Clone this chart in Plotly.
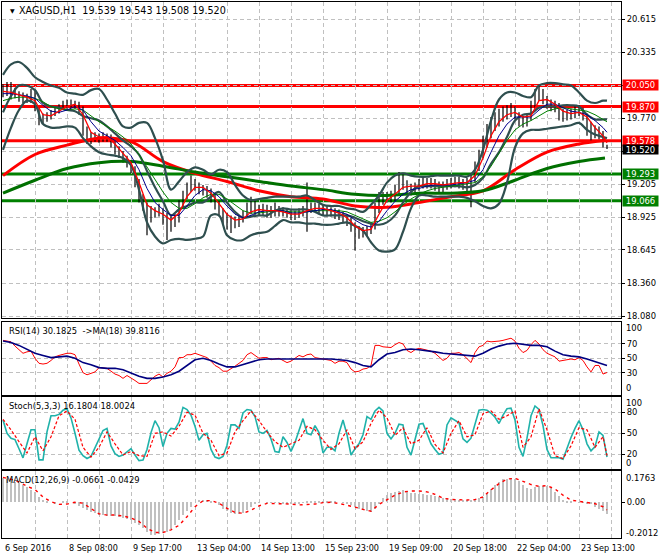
import plotly.graph_objects as go

# ---------------- data ----------------
time_labels = ["6 Sep 2016", "8 Sep 08:00", "9 Sep 17:00", "13 Sep 04:00", "14 Sep 13:00",
               "15 Sep 23:00", "19 Sep 09:00", "20 Sep 18:00", "22 Sep 04:00", "23 Sep 13:00"]
price_ticks = [20.615, 20.335, 20.050, 19.770, 19.490, 19.205, 18.925, 18.645, 18.360, 18.080]
price_tick_text = ["20.615", "20.335", "", "19.770", "", "19.205", "18.925", "18.645", "18.360", "18.080"]

close = [20.01,20.00,19.99,19.99,19.96,19.95,19.94,19.96,19.88,19.76,
 19.76,19.78,19.81,19.83,19.86,19.88,19.89,19.90,19.89,19.86,
 19.69,19.61,19.60,19.61,19.60,19.61,19.61,19.57,19.51,19.48,
 19.44,19.40,19.35,19.24,19.11,19.05,18.97,18.96,18.97,18.98,
 18.94,18.90,18.88,18.90,19.03,19.11,19.17,19.22,19.20,19.17,
 19.16,19.14,19.11,19.05,18.99,18.93,18.91,18.89,18.88,18.88,
 18.93,18.98,19.00,18.99,18.99,18.99,18.98,18.97,18.98,18.98,
 18.97,18.96,18.94,18.94,18.96,18.98,19.00,19.01,19.01,18.99,
 18.99,18.97,18.97,18.96,18.94,18.93,18.90,18.85,18.81,18.80,
 18.80,18.81,18.83,18.97,19.06,19.09,19.10,19.10,19.14,19.23,
 19.22,19.18,19.16,19.17,19.20,19.22,19.22,19.22,19.20,19.18,
 19.19,19.21,19.22,19.23,19.23,19.21,19.21,19.24,19.33,19.41,
 19.52,19.64,19.70,19.75,19.78,19.81,19.82,19.84,19.82,19.76,
 19.74,19.76,19.84,19.95,19.99,19.94,19.90,19.88,19.87,19.83,
 19.80,19.80,19.81,19.82,19.84,19.82,19.74,19.67,19.65,19.64,
 19.58,19.52]
high = [20.06,20.08,20.08,20.03,20.00,19.99,19.98,20.02,20.01,19.86,
 19.81,19.82,19.84,19.87,19.89,19.92,19.93,19.93,19.92,19.91,
 19.87,19.70,19.65,19.65,19.64,19.65,19.64,19.63,19.57,19.53,
 19.49,19.45,19.41,19.36,19.25,19.12,19.05,19.02,19.01,19.04,
 19.00,18.96,18.95,18.95,19.07,19.15,19.22,19.28,19.25,19.22,
 19.20,19.19,19.17,19.12,19.06,19.00,18.96,18.94,18.93,18.94,
 18.98,19.05,19.10,19.08,19.03,19.04,19.03,19.02,19.05,19.02,
 19.01,19.00,18.99,18.98,19.00,19.02,19.22,19.05,19.05,19.04,
 19.03,19.02,19.01,19.00,18.99,18.97,18.95,18.92,18.88,18.85,
 18.84,18.85,18.88,19.05,19.14,19.14,19.14,19.15,19.20,19.31,
 19.29,19.24,19.21,19.22,19.25,19.26,19.26,19.26,19.25,19.23,
 19.23,19.25,19.26,19.27,19.27,19.25,19.26,19.30,19.40,19.50,
 19.62,19.72,19.78,19.82,19.85,19.87,19.88,19.90,19.87,19.82,
 19.79,19.81,19.92,20.02,20.05,20.02,19.96,19.93,19.92,19.90,
 19.85,19.84,19.85,19.88,19.88,19.86,19.81,19.74,19.71,19.70,
 19.66,19.543]
low = [19.95,19.96,19.93,19.94,19.91,19.90,19.90,19.90,19.83,19.71,
 19.72,19.74,19.76,19.79,19.81,19.84,19.85,19.86,19.85,19.80,
 19.62,19.55,19.55,19.57,19.56,19.57,19.57,19.52,19.46,19.43,
 19.39,19.35,19.30,19.18,19.05,18.98,18.77,18.88,18.92,18.93,
 18.86,18.73,18.80,18.84,18.88,19.00,19.08,19.14,19.15,19.12,
 19.11,19.09,19.05,18.99,18.93,18.86,18.82,18.79,18.83,18.84,
 18.88,18.93,18.95,18.94,18.94,18.94,18.92,18.92,18.93,18.93,
 18.93,18.92,18.90,18.90,18.92,18.93,18.80,18.96,18.97,18.95,
 18.94,18.93,18.93,18.91,18.90,18.88,18.85,18.80,18.64,18.74,
 18.75,18.76,18.78,18.82,18.96,19.03,19.05,19.05,19.06,19.12,
 19.16,19.13,19.11,19.13,19.15,19.17,19.17,19.17,19.15,19.13,
 19.14,19.16,19.17,19.18,19.17,19.16,19.12,19.01,19.22,19.32,
 19.43,19.52,19.60,19.66,19.70,19.74,19.76,19.78,19.76,19.70,
 19.69,19.70,19.75,19.85,19.92,19.89,19.85,19.83,19.82,19.75,
 19.74,19.75,19.76,19.77,19.79,19.75,19.62,19.58,19.60,19.59,
 19.52,19.508]

ma_red = [20.00,19.99,19.97,19.95,19.92,19.80,19.79,19.83,19.87,19.89,
 19.80,19.65,19.61,19.61,19.55,19.47,19.39,19.22,19.03,18.98,
 18.95,18.90,18.96,19.10,19.18,19.18,19.13,19.04,18.95,18.90,
 18.91,18.97,18.99,18.98,18.98,18.97,18.95,18.95,18.98,19.00,
 19.00,18.98,18.96,18.92,18.85,18.81,18.82,18.95,19.07,19.12,
 19.18,19.19,19.19,19.21,19.21,19.20,19.21,19.22,19.22,19.28,
 19.43,19.62,19.74,19.80,19.82,19.78,19.79,19.92,19.93,19.89,
 19.83,19.81,19.82,19.78,19.69,19.62,19.56]
ma_blue = [19.98,19.98,19.97,19.96,19.94,19.88,19.83,19.82,19.84,19.87,
 19.84,19.74,19.66,19.62,19.58,19.52,19.45,19.33,19.17,19.05,
 18.99,18.94,18.94,19.02,19.11,19.16,19.15,19.10,19.02,18.95,
 18.92,18.94,18.97,18.98,18.98,18.98,18.96,18.96,18.97,18.98,
 18.99,18.99,18.97,18.95,18.90,18.86,18.84,18.89,18.98,19.06,
 19.12,19.16,19.17,19.19,19.20,19.20,19.20,19.21,19.22,19.24,
 19.33,19.48,19.62,19.72,19.78,19.78,19.78,19.84,19.89,19.89,
 19.86,19.83,19.82,19.80,19.75,19.69,19.65]
ma_green = [19.92,19.94,19.95,19.95,19.94,19.91,19.87,19.85,19.84,19.85,
 19.84,19.79,19.74,19.70,19.66,19.61,19.55,19.46,19.35,19.24,
 19.14,19.05,19.00,19.00,19.04,19.09,19.12,19.12,19.08,19.03,
 18.98,18.96,18.96,18.97,18.98,18.98,18.97,18.97,18.97,18.98,
 18.98,18.98,18.98,18.97,18.94,18.91,18.88,18.89,18.92,18.97,
 19.03,19.08,19.12,19.15,19.17,19.18,19.19,19.20,19.21,19.22,
 19.27,19.36,19.47,19.58,19.67,19.72,19.75,19.79,19.83,19.85,
 19.86,19.85,19.84,19.83,19.80,19.76,19.74]
bb_upper = [20.14,20.23,20.25,20.20,20.12,20.08,20.05,20.03,19.99,19.98,
 19.97,20.01,20.02,19.93,19.81,19.70,19.69,19.73,19.73,19.60,
 19.41,19.16,19.23,19.31,19.35,19.33,19.29,19.33,19.31,19.20,
 19.11,19.07,19.08,19.09,19.10,19.10,19.10,19.10,19.11,19.07,
 19.03,19.02,19.02,19.00,18.99,18.97,19.03,19.11,19.22,19.28,
 19.30,19.28,19.27,19.27,19.28,19.28,19.28,19.28,19.27,19.33,
 19.50,19.75,19.93,19.99,19.99,19.96,19.95,20.05,20.07,20.07,
 20.06,20.05,19.99,19.92,19.90,19.92,19.92]
bb_mid = [19.82,19.96,20.05,20.05,20.01,19.90,19.87,19.86,19.84,19.83,
 19.79,19.77,19.75,19.70,19.64,19.58,19.53,19.46,19.32,19.18,
 19.06,18.94,18.99,19.02,19.05,19.05,19.10,19.14,19.05,18.97,
 18.92,18.93,18.94,18.94,18.98,19.00,18.99,18.99,18.99,18.97,
 18.94,18.94,18.94,18.94,18.92,18.89,18.87,18.86,18.88,18.94,
 19.05,19.14,19.19,19.19,19.19,19.19,19.19,19.19,19.18,19.20,
 19.26,19.38,19.48,19.61,19.75,19.80,19.81,19.86,19.87,19.87,
 19.88,19.88,19.87,19.80,19.76,19.76,19.76]
bb_lower = [19.50,19.69,19.84,19.92,19.89,19.72,19.69,19.69,19.70,19.69,
 19.60,19.53,19.48,19.46,19.45,19.43,19.37,19.16,18.88,18.76,
 18.70,18.73,18.74,18.73,18.74,18.76,18.94,18.94,18.77,18.73,
 18.73,18.77,18.79,18.80,18.85,18.90,18.88,18.88,18.87,18.87,
 18.86,18.86,18.87,18.88,18.85,18.81,18.71,18.64,18.63,18.65,
 18.80,19.00,19.11,19.11,19.10,19.10,19.10,19.10,19.09,19.06,
 19.02,19.00,19.04,19.22,19.52,19.64,19.67,19.67,19.68,19.69,
 19.70,19.71,19.73,19.67,19.63,19.61,19.60]
ma_long_red = [19.28,19.46,19.54,19.60,19.57,19.40,19.30,19.23,19.15,19.10,
 19.08,19.02,19.01,19.05,19.10,19.15,19.33,19.48,19.55,19.58]
ma_long_green = [19.13,19.24,19.34,19.39,19.40,19.36,19.31,19.27,19.23,19.19,
 19.16,19.12,19.11,19.13,19.13,19.15,19.24,19.34,19.40,19.43]

levels_red = [20.050, 19.870, 19.578]
levels_green = [19.293, 19.066]
last_price = 19.520

rsi = [75,74,73,67,62,57,59,60,50,43,42,43,47,52,54,56,57,57,55,42,
 30,27,29,31,37,37,36,32,28,26,22,26,23,19,15,15,15,20,25,28,
 24,29,32,38,51,51,55,55,57,55,53,51,46,40,37,32,32,35,39,43,
 47,55,58,54,50,51,51,48,49,50,47,44,46,50,54,52,55,56,51,50,
 49,49,47,43,46,46,44,35,31,32,35,36,40,68,68,66,65,65,69,72,
 70,61,58,62,64,63,62,60,57,52,47,50,57,57,58,55,50,44,58,66,
 68,74,73,73,74,75,76,78,74,64,58,61,69,75,70,62,57,55,52,46,
 47,48,49,48,51,47,38,31,40,40,28,30.18]
rsi_ma = [74,72,68,62,57,54,51,52,53,50,44,41,37,36,36,34,29,25,22,22,
 24,27,32,40,48,50,47,42,38,38,41,45,48,49,49,49,49,49,50,50,
 50,49,48,47,44,40,38,48,56,58,62,63,62,61,59,57,56,55,54,53,
 57,63,67,70,71,69,68,68,66,60,55,53,52,49,45,41,39.81]
stoch_k = [69,50,43,41,28,15,35,55,55,12,12,52,75,75,77,83,85,72,50,26,
 18,14,17,30,42,54,57,32,21,17,19,23,28,19,11,12,27,51,68,58,
 31,50,57,56,66,87,84,76,60,40,48,50,27,16,14,17,33,62,62,57,
 79,84,83,74,52,50,54,42,24,23,45,37,24,37,55,71,50,48,61,51,
 22,30,30,25,50,69,48,19,28,35,48,74,70,82,87,82,50,42,50,63,
 62,30,19,40,63,64,48,35,27,20,22,62,72,68,65,42,37,43,65,83,
 84,83,79,73,64,76,85,86,69,30,17,43,75,89,84,61,27,15,15,15,
 13,29,44,57,68,55,35,25,31,52,47,16.18]
stoch_d = [70,55,38,22,45,25,45,75,82,70,30,16,30,52,35,19,24,18,17,50,
 52,46,60,80,76,50,40,18,22,52,68,82,68,52,38,30,35,40,60,55,
 40,27,35,55,28,38,64,83,72,47,58,35,40,58,34,22,50,68,45,48,
 78,82,70,75,82,30,45,85,55,18,14,32,58,55,30,45,18.0]
macd_hist = [0.135,0.13,0.125,0.115,0.108,0.10,0.085,0.072,0.06,0.03,
 0.015,0.005,0.0,-0.005,0.0,0.003,0.002,0.0,-0.01,-0.02,
 -0.034,-0.045,-0.055,-0.062,-0.07,-0.074,-0.076,-0.078,-0.08,-0.084,
 -0.09,-0.095,-0.10,-0.115,-0.13,-0.146,-0.17,-0.184,-0.182,-0.176,
 -0.172,-0.165,-0.152,-0.13,-0.10,-0.072,-0.05,-0.028,0.0,0.013,
 0.014,0.012,0.006,0.0,-0.015,-0.035,-0.05,-0.058,-0.064,-0.068,
 -0.058,-0.042,-0.025,-0.01,-0.002,0.0,-0.002,-0.003,-0.002,-0.004,
 -0.005,-0.006,-0.008,-0.007,-0.005,-0.002,0.002,0.004,0.006,0.008,
 0.01,0.009,0.006,0.003,0.0,-0.003,-0.008,-0.015,-0.025,-0.035,
 -0.045,-0.05,-0.053,-0.04,-0.01,0.025,0.04,0.05,0.058,0.065,
 0.069,0.062,0.055,0.05,0.048,0.045,0.043,0.041,0.036,0.03,
 0.026,0.023,0.02,0.016,0.014,0.013,0.012,0.012,0.015,0.022,
 0.03,0.05,0.075,0.095,0.115,0.13,0.134,0.135,0.13,0.118,
 0.097,0.082,0.077,0.085,0.089,0.09,0.09,0.078,0.058,0.035,
 0.013,0.007,0.004,0.0,-0.002,-0.004,-0.006,-0.012,-0.025,-0.038,
 -0.05,-0.0661]
macd_signal = [0.14,0.13,0.115,0.09,0.072,0.03,0.003,-0.012,-0.01,0.0,
 -0.005,-0.035,-0.065,-0.072,-0.072,-0.077,-0.088,-0.108,-0.146,-0.17,
 -0.17,-0.155,-0.13,-0.081,-0.025,0.008,0.01,-0.005,-0.034,-0.057,
 -0.062,-0.045,-0.02,-0.006,-0.006,-0.006,-0.01,-0.015,-0.013,-0.01,
 -0.002,0.0,-0.007,-0.015,-0.027,-0.04,-0.05,-0.012,0.013,0.04,
 0.058,0.064,0.064,0.059,0.045,0.023,0.016,0.013,0.013,0.015,
 0.03,0.07,0.105,0.131,0.135,0.118,0.10,0.09,0.094,0.075,
 0.04,0.012,0.005,0.0,-0.008,-0.025,-0.0429]

# ---------------- positions (bar index) ----------------
bar_x = [2 * k for k in range(len(close))]
mid_x = list(range(0, 301, 4)) + [302]
long_x = list(range(0, 289, 16)) + [301]
label_x = [32 * n for n in range(len(time_labels))]
grid_x = list(range(16, 309, 16))

FONT = "DejaVu Sans"
FS = 8.4
GRID = "#C0C0C0"

fig = go.Figure()

# price bars (high-low strokes)
seg_x, seg_y = [], []
for xi, h, l in zip(bar_x, high, low):
    seg_x += [xi, xi, None]
    seg_y += [l, h, None]
fig.add_trace(go.Scatter(x=seg_x, y=seg_y, mode="lines", line=dict(color="black", width=1.2),
                         xaxis="x", yaxis="y", hoverinfo="skip"))

fig.add_trace(go.Scatter(x=long_x, y=ma_long_red, mode="lines", line=dict(color="#FF0000", width=3, shape="spline"),
                         xaxis="x", yaxis="y"))
fig.add_trace(go.Scatter(x=long_x, y=ma_long_green, mode="lines", line=dict(color="#007000", width=3, shape="spline"),
                         xaxis="x", yaxis="y"))
for arr in (bb_upper, bb_mid, bb_lower):
    fig.add_trace(go.Scatter(x=mid_x, y=arr, mode="lines", line=dict(color="#2F4F4F", width=2.2, shape="spline"),
                             xaxis="x", yaxis="y"))
fig.add_trace(go.Scatter(x=mid_x, y=ma_green, mode="lines", line=dict(color="#008000", width=1),
                         xaxis="x", yaxis="y"))
fig.add_trace(go.Scatter(x=mid_x, y=ma_blue, mode="lines", line=dict(color="#00008B", width=1),
                         xaxis="x", yaxis="y"))
fig.add_trace(go.Scatter(x=mid_x, y=ma_red, mode="lines", line=dict(color="#FF0000", width=1.3),
                         xaxis="x", yaxis="y"))

# RSI
fig.add_trace(go.Scatter(x=bar_x, y=rsi, mode="lines", line=dict(color="#FF0000", width=1),
                         xaxis="x2", yaxis="y2"))
fig.add_trace(go.Scatter(x=mid_x, y=rsi_ma, mode="lines", line=dict(color="#000080", width=1.6),
                         xaxis="x2", yaxis="y2"))
# Stochastic
fig.add_trace(go.Scatter(x=bar_x, y=stoch_k, mode="lines", line=dict(color="#20B2AA", width=1.6),
                         xaxis="x3", yaxis="y3"))
fig.add_trace(go.Scatter(x=mid_x, y=stoch_d, mode="lines", line=dict(color="#FF0000", width=1.2, dash="3px,2px"),
                         xaxis="x3", yaxis="y3"))
# MACD
fig.add_trace(go.Bar(x=bar_x, y=macd_hist, width=1.0, marker=dict(color="#C0C0C0", line=dict(width=0)),
                     xaxis="x4", yaxis="y4"))
fig.add_trace(go.Scatter(x=mid_x, y=macd_signal, mode="lines", line=dict(color="#FF0000", width=1.4, dash="3px,4px"),
                         xaxis="x4", yaxis="y4"))

# horizontal levels
shapes = []
shapes.append(dict(type="line", xref="paper", yref="y", x0=0, x1=1, y0=last_price, y1=last_price,
                   line=dict(color="#C0C0C0", width=1), layer="below"))
for lv in levels_red:
    shapes.append(dict(type="line", xref="paper", yref="y", x0=0, x1=1, y0=lv, y1=lv,
                       line=dict(color="#FF0000", width=3), layer="below"))
for lv in levels_green:
    shapes.append(dict(type="line", xref="paper", yref="y", x0=0, x1=1, y0=lv, y1=lv,
                       line=dict(color="#008000", width=3), layer="below"))

ann = []
def box(y, text, bg, yshift=0, h=10):
    ann.append(dict(xref="paper", yref="y", x=1, y=y, xanchor="left", yanchor="middle", xshift=1,
                    yshift=yshift, text=text, showarrow=False, bgcolor=bg, borderpad=0,
                    width=35, height=h, align="center",
                    font=dict(family=FONT, size=FS, color="white")))
for lv in levels_red:
    box(lv, f"{lv:.3f}", "#FF0000")
for lv in levels_green:
    box(lv, f"{lv:.3f}", "#008000")
box(last_price, f"{last_price:.3f}", "black", yshift=-2, h=9)

def txt(x_px, y_paper, text, size=FS):
    ann.append(dict(xref="paper", yref="paper", x=x_px, y=y_paper, xanchor="left", yanchor="middle",
                    text=text, showarrow=False, font=dict(family=FONT, size=size, color="black")))

txt(0.0105, 0.985, "<span style='font-size:6px'>▼</span>")
txt(0.025, 0.985, "XAGUSD,H1  19.539 19.543 19.508 19.520", size=9.6)
txt(0.008, 0.3862, "RSI(14) 30.1825  -&gt;MA(18) 39.8116")
txt(0.008, 0.2463, "Stoch(5,3,3) 16.1804 18.0024")
txt(0.004, 0.1082, "MACD(12,26,9) -0.0661 -0.0429")

def rlabel(y_paper, text):
    ann.append(dict(xref="paper", yref="paper", x=1, y=y_paper, xanchor="left", yanchor="middle", xshift=3,
                    text=text, showarrow=False, font=dict(family=FONT, size=FS, color="black")))
rlabel(0.3918, "100"); rlabel(0.2799, "0")
rlabel(0.2515, "100"); rlabel(0.1400, "0")
rlabel(0.1114, "0.1763"); rlabel(0.0099, "-0.2012")

for xi, lab in zip(label_x, time_labels):
    ann.append(dict(xref="x4", yref="paper", x=xi, y=0, xanchor="left", yanchor="middle", yshift=-10,
                    text=lab, showarrow=False, font=dict(family=FONT, size=8.1, color="black")))

xcommon = dict(range=[-0.5, 309], showline=True, mirror=True, linecolor="black", linewidth=1,
               tickvals=grid_x, showticklabels=False, ticks="", showgrid=True, gridcolor=GRID,
               griddash="4px,3px", gridwidth=1, zeroline=False, fixedrange=True)
ycommon = dict(side="right", showline=True, mirror=True, linecolor="black", linewidth=1,
               ticks="outside", ticklen=3, tickcolor="black", zeroline=False, gridcolor=GRID,
               griddash="4px,3px", gridwidth=1, tickfont=dict(family=FONT, size=FS, color="black"))

fig.update_layout(
    width=660, height=560, margin=dict(l=2, r=39, t=2, b=22),
    paper_bgcolor="white", plot_bgcolor="white", showlegend=False,
    xaxis=dict(**xcommon, anchor="y", domain=[0, 1]),
    xaxis2=dict(**xcommon, anchor="y2", domain=[0, 1], matches="x"),
    xaxis3=dict(**xcommon, anchor="y3", domain=[0, 1], matches="x"),
    xaxis4=dict(**xcommon, anchor="y4", domain=[0, 1], matches="x"),
    yaxis=dict(**ycommon, anchor="x", domain=[0.4104, 1.0], range=[18.063, 20.763],
               tickvals=price_ticks, ticktext=price_tick_text, showgrid=True),
    yaxis2=dict(**ycommon, anchor="x2", domain=[0.2677, 0.4035], range=[-0.5, 101],
                tickvals=[30, 50, 70], showgrid=True),
    yaxis3=dict(**ycommon, anchor="x3", domain=[0.1287, 0.2631], range=[-1, 101.9],
                tickvals=[20, 50, 80], showgrid=True),
    yaxis4=dict(**ycommon, anchor="x4", domain=[0.0, 0.125], range=[-0.2012, 0.1763],
                tickvals=[0], ticktext=["0.00"], showgrid=False),
    shapes=shapes, annotations=ann, bargap=0,
)

fig.write_html("out.html", config={"displayModeBar": False},
               post_script="document.body.style.margin='0';document.body.style.overflow='hidden';")
